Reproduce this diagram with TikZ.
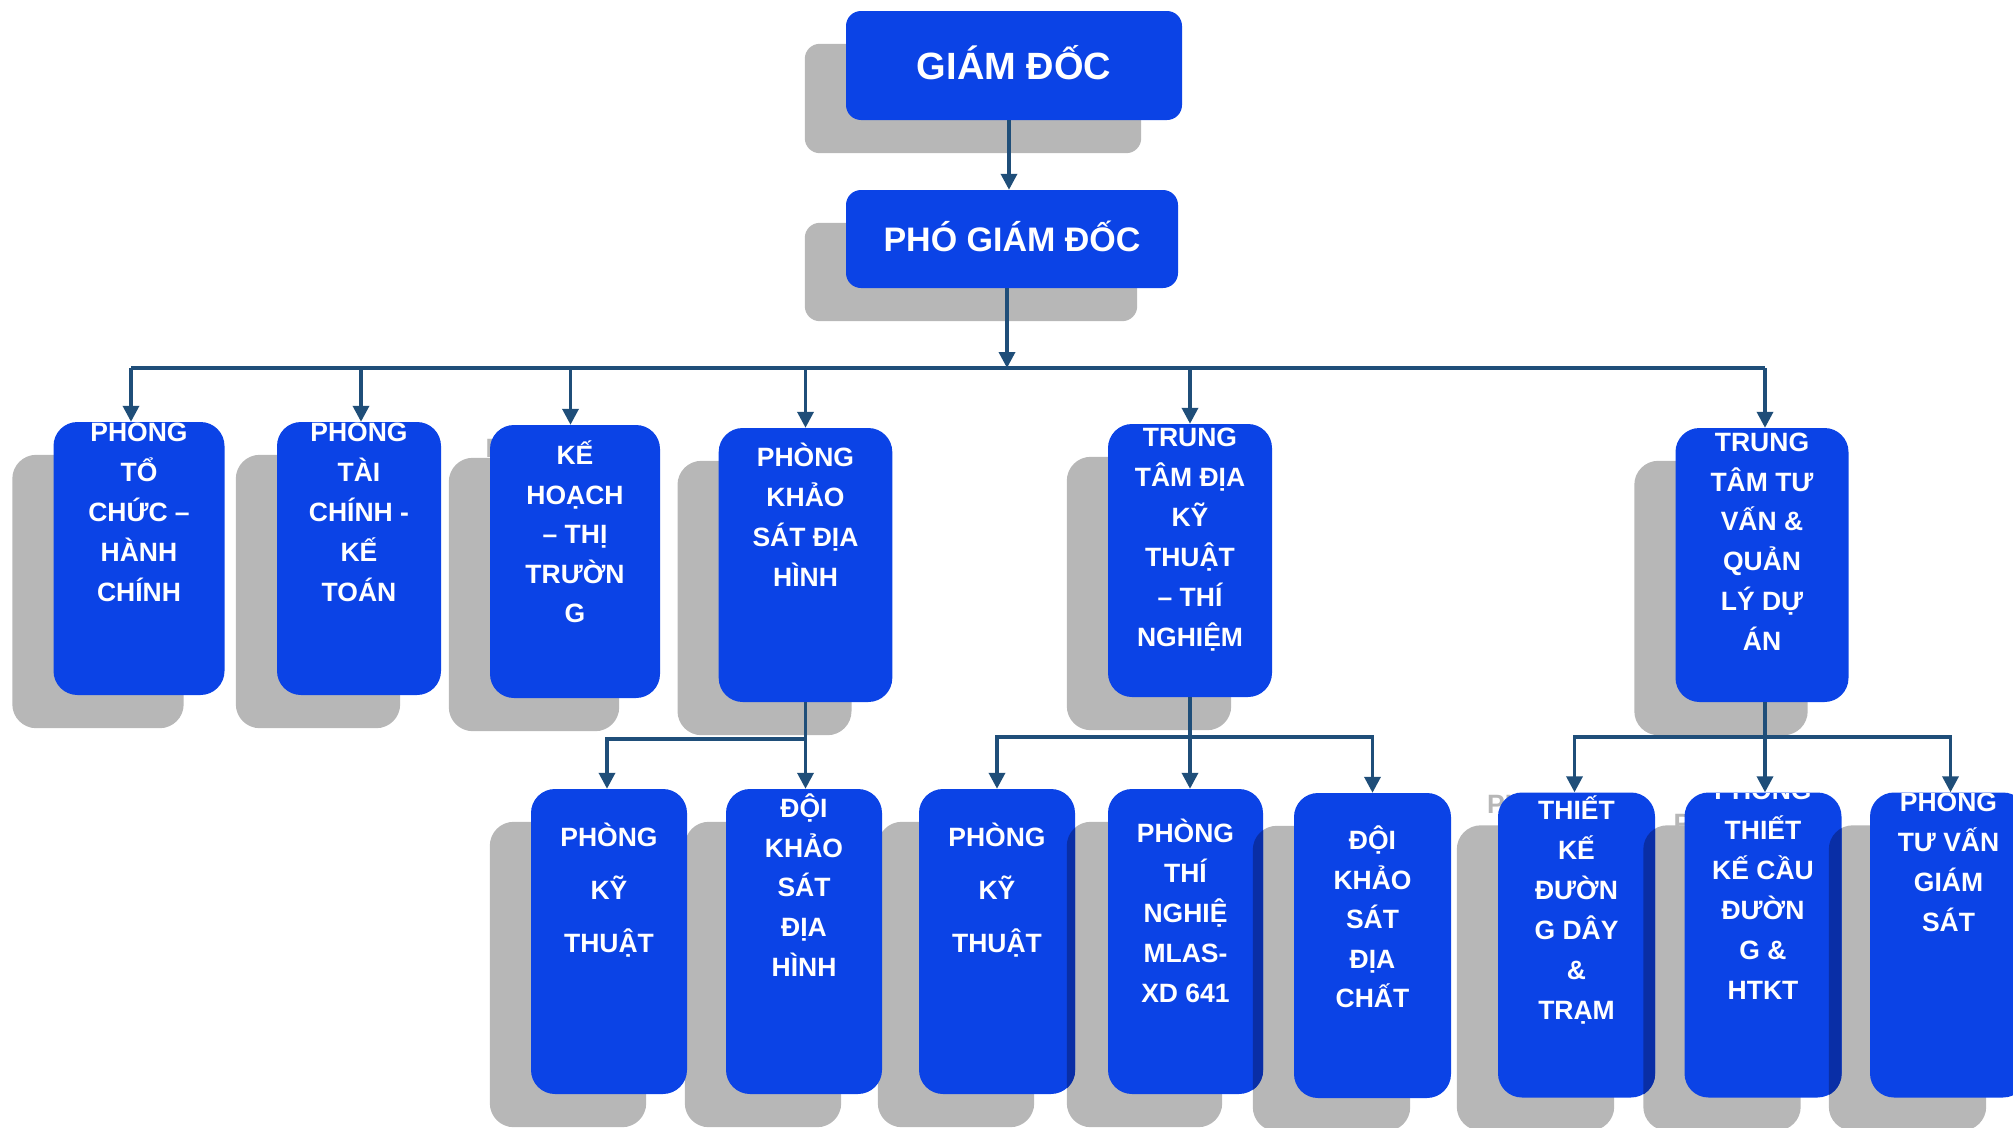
\documentclass[tikz,border=0pt]{standalone}
\usepackage{fontspec}
\setmainfont{Liberation Sans}
\usetikzlibrary{arrows.meta,calc}
\pgfdeclarelayer{bg}
\pgfsetlayers{bg,main}
\definecolor{boxblue}{RGB}{11,67,230}
\definecolor{shadowgray}{RGB}{183,183,183}
\definecolor{conncol}{RGB}{31,78,121}
\definecolor{stripblue}{RGB}{9,46,166}
\tikzset{
  unitnode/.style={fill=boxblue, draw=none, rounded corners=24pt, inner sep=0pt},
  topbox/.style={fill=boxblue, draw=none, rounded corners=15pt, inner sep=0pt, text=white},
  boxtxt/.style={text=white, font=\bfseries\fontsize{26.5}{30}\selectfont, inner sep=0pt,
    anchor=base, minimum width=0pt, minimum height=0pt},
  ghosttxt/.style={text=shadowgray, font=\bfseries\fontsize{26.5}{30}\selectfont, inner sep=0pt, anchor=base west},
  conn/.style={draw=conncol, line width=3.5pt},
  arr/.style={conn, -{Triangle[width=16pt,length=16pt]}},
}
\newcommand{\unitbox}[8]{%
  \node[unitnode, minimum width=#4pt, minimum height=#5pt,
    path picture={\foreach \lbl [count=\i from 0] in {#8}
      \node[boxtxt] at ([yshift={-(#6+\i*#7)*1pt}]path picture bounding box.north) {\lbl};}]
    (#1) at (#2,#3) {};}
\newcommand{\shadowof}[2]{%
  \fill[shadowgray, rounded corners=#2] ([shift={(-41,33)}]#1.south west) rectangle ([shift={(-41,33)}]#1.north east);}
\newcommand{\stripof}[2]{%
  \begin{scope}
    \clip[rounded corners=24pt] (#1.south west) rectangle (#1.north east);
    \fill[stripblue, rounded corners=24pt] ([shift={(-41,33)}]#2.south west) rectangle ([shift={(-41,33)}]#2.north east);
  \end{scope}}
\begin{document}
\begin{tikzpicture}[x=1pt,y=-1pt]
\useasboundingbox (0,0) rectangle (2013,1127);

% top boxes
\node[topbox, font=\bfseries\fontsize{38}{40}\selectfont, minimum width=336pt, minimum height=109pt,
  text height=27.2pt, text depth=0pt] (gd) at (1014,65.5) {GIÁM ĐỐC};
\node[topbox, font=\bfseries\fontsize{34}{36}\selectfont, minimum width=332pt, minimum height=98pt,
  text height=24.3pt, text depth=0pt] (pgd) at (1012,239) {PHÓ GIÁM ĐỐC};

% level 2
\unitbox{b1}{139}{558.5}{171}{273}{19.3}{40}{PHÒNG,TỔ,CHỨC –,HÀNH,CHÍNH}
\unitbox{b2}{359}{558.5}{164}{273}{19.3}{40}{PHÒNG,TÀI,CHÍNH -,KẾ,TOÁN}
\unitbox{b3}{575}{561.5}{170}{273}{39.5}{39.5}{KẾ,HOẠCH,– THỊ,TRƯỜN,G}
\unitbox{b4}{805.5}{565}{173.6}{274}{38.5}{40}{PHÒNG,KHẢO,SÁT ĐỊA,HÌNH}
\unitbox{b5}{1190}{560.5}{164}{273}{22.5}{40}{TRUNG,TÂM ĐỊA,KỸ,THUẬT,– THÍ,NGHIỆM}
\unitbox{b6}{1762}{565}{173}{274}{23.2}{39.8}{TRUNG,TÂM TƯ,VẤN \&,QUẢN,LÝ DỰ,ÁN}

% level 3
\unitbox{b7}{609}{941.5}{156}{305}{57.2}{53}{PHÒNG,KỸ,THUẬT}
\unitbox{b8}{804}{941.5}{156}{305}{28.5}{39.7}{ĐỘI,KHẢO,SÁT,ĐỊA,HÌNH}
\unitbox{b9}{997}{941.5}{156}{305}{57.2}{53}{PHÒNG,KỸ,THUẬT}
\unitbox{b10}{1185.5}{941.5}{155}{305}{53.5}{40}{PHÒNG,THÍ,NGHIỆ,MLAS-,XD 641}
\unitbox{b11}{1372.5}{945.5}{157}{305}{56.5}{39.5}{ĐỘI,KHẢO,SÁT,ĐỊA,CHẤT}
\unitbox{b12}{1576.5}{945}{157}{305}{26.8}{40}{THIẾT,KẾ,ĐƯỜN,G DÂY,\&,TRẠM}
\unitbox{b13}{1763}{945}{157}{305}{6.8}{40}{PHÒNG,THIẾT,KẾ CẦU,ĐƯỜN,G \&,HTKT}
\unitbox{b14}{1948.5}{945}{157}{305}{18.5}{40}{PHÒNG,TƯ VẤN,GIÁM,SÁT}

% shadows (with the grey fragments of hidden text that peek out)
\begin{pgfonlayer}{bg}
  \shadowof{gd}{15pt}
  \shadowof{pgd}{15pt}
  \foreach \n in {b1,b2,b3,b4,b5,b6,b7,b8,b9,b10,b11,b12,b13,b14} {\shadowof{\n}{24pt}}
  \node[ghosttxt] (g3) at (485.4,457.5) {P};
  \node[ghosttxt] (g12) at (1486.9,813) {PH};
  \node[ghosttxt] (g13) at (1673.4,832.5) {P};
\end{pgfonlayer}

% overlaps of shadows on neighbouring boxes
\stripof{b9}{b10}
\stripof{b10}{b11}
\stripof{b12}{b13}
\stripof{b13}{b14}

% connectors
\coordinate (bus) at (0,368);
\coordinate (h1) at (0,739);
\coordinate (h2) at (0,737);
\draw[arr] ([xshift=-5pt]gd.south) -- ([xshift=-5pt]gd.south |- pgd.north);
\draw[arr] ([xshift=-5pt]pgd.south) -- ([xshift=-5pt]pgd.south |- bus);
\draw[conn] ([xshift=-8pt]b1.north |- bus) -- ([xshift=3pt]b6.north |- bus);
\draw[arr] ([xshift=-8pt]b1.north |- bus) -- ([xshift=-8pt]b1.north);
\draw[arr] ([xshift=2pt]b2.north |- bus) -- ([xshift=2pt]b2.north);
\draw[arr] ([xshift=-4.5pt]b3.north |- bus) -- ([xshift=-4.5pt]b3.north);
\draw[arr] (b4.north |- bus) -- (b4.north);
\draw[arr] (b5.north |- bus) -- (b5.north);
\draw[arr] ([xshift=3pt]b6.north |- bus) -- ([xshift=3pt]b6.north);

\draw[arr] (b4.south) -- (b4.south |- b8.north);
\draw[arr] (b4.south |- h1) -| ([xshift=-2pt]b7.north);

\draw[arr] (b5.south) -- (b5.south |- b10.north);
\draw[arr] (b5.south |- h2) -| (b9.north);
\draw[arr] (b5.south |- h2) -| (b11.north);

\coordinate (b6s) at ([xshift=3pt]b6.south);
\draw[arr] (b6s) -- (b6s |- b13.north);
\draw[arr] (b6s |- h2) -| ([xshift=-2pt]b12.north);
\draw[arr] (b6s |- h2) -| ([xshift=2pt]b14.north);
\end{tikzpicture}
\end{document}
